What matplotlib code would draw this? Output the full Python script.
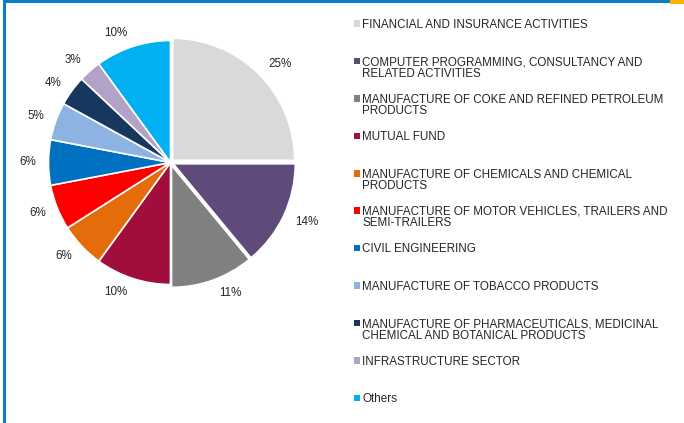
import matplotlib
matplotlib.use("Agg")
import numpy as np
import matplotlib.pyplot as plt
from matplotlib.patches import Rectangle

plt.rcParams["font.family"] = ["Liberation Sans", "DejaVu Sans"]

sectors = [
    "FINANCIAL AND INSURANCE ACTIVITIES",
    "COMPUTER PROGRAMMING, CONSULTANCY AND\nRELATED ACTIVITIES",
    "MANUFACTURE OF COKE AND REFINED PETROLEUM\nPRODUCTS",
    "MUTUAL FUND",
    "MANUFACTURE OF CHEMICALS AND CHEMICAL\nPRODUCTS",
    "MANUFACTURE OF MOTOR VEHICLES, TRAILERS AND\nSEMI-TRAILERS",
    "CIVIL ENGINEERING",
    "MANUFACTURE OF TOBACCO PRODUCTS",
    "MANUFACTURE OF PHARMACEUTICALS, MEDICINAL\nCHEMICAL AND BOTANICAL PRODUCTS",
    "INFRASTRUCTURE SECTOR",
    "Others",
]
shares = [25, 14, 11, 10, 6, 6, 6, 5, 4, 3, 10]
colors = [
    "#D9D9D9", "#604A7B", "#808080", "#A20E3C", "#E46C0A", "#FF0000",
    "#0070C0", "#8DB3E2", "#17375E", "#B3A2C7", "#00B0F0",
]
explode = [0.025, 0.025, 0.025, 0, 0, 0, 0, 0, 0, 0, 0]

W, H = 684, 423
FS = 8.4
TXT = "#262626"
fig = plt.figure(figsize=(W / 100, H / 100), dpi=100)
fig.patch.set_facecolor("white")

# pie axes: centre (170.5, 162.5) px, radius 122 px
cx, cy, r = 170.5, 162.5, 122
lim = 1.3
side = 2 * lim * r
ax = fig.add_axes([(cx - lim * r) / W, (H - cy - lim * r) / H, side / W, side / H])
wedges, texts, autotexts = ax.pie(
    shares,
    colors=colors,
    explode=explode,
    startangle=90,
    counterclock=False,
    autopct="%.0f%%",
    wedgeprops=dict(edgecolor="white", linewidth=1.2),
    textprops=dict(fontsize=FS, color=TXT),
)
ax.set_xlim(-lim, lim)
ax.set_ylim(-lim, lim)
ax.set_aspect("equal")
ax.axis("off")

# outside-end percentage labels: inner edge of each label sits just past the rim
R0, gap, half_h = 131 / r, 3 / r, 5 / r
for w, t in zip(wedges, autotexts):
    ang = np.deg2rad((w.theta1 + w.theta2) / 2)
    ux, uy = np.cos(ang), np.sin(ang)
    x0, y0 = w.center
    s = 1 if ux >= 0 else -1
    t.set_position((x0 + ux * R0 + s * gap, y0 + uy * (R0 + half_h)))
    t.set_ha("left" if s > 0 else "right")
    t.set_va("center")

# legend drawn as a column of swatches and labels
x_box, x_text = 353.5, 362
base0, step, line_h = 28, 37.4, 11.4
for i, (name, col) in enumerate(zip(sectors, colors)):
    yb = base0 + step * i
    fig.add_artist(Rectangle((x_box / W, 1 - (yb - 1) / H), 6.5 / W, 6.5 / H,
                             transform=fig.transFigure, facecolor=col,
                             edgecolor="none"))
    for k, line in enumerate(name.split("\n")):
        fig.text(x_text / W, 1 - (yb + k * line_h) / H, line, fontsize=FS,
                 color=TXT, ha="left", va="baseline")

# frame bars
blue, yellow = "#0A7FC5", "#F4B400"
fig.add_artist(Rectangle((3.3 / W, 1 - 3.5 / H), (670 - 3.3) / W, 3.5 / H,
                         transform=fig.transFigure, facecolor=blue, edgecolor="none"))
fig.add_artist(Rectangle((670 / W, 1 - 4 / H), 14 / W, 4 / H,
                         transform=fig.transFigure, facecolor=yellow, edgecolor="none"))
fig.add_artist(Rectangle((3.3 / W, 0), 2.2 / W, 1,
                         transform=fig.transFigure, facecolor=blue, edgecolor="none"))

fig.savefig("out.png", dpi=100, facecolor="white")
